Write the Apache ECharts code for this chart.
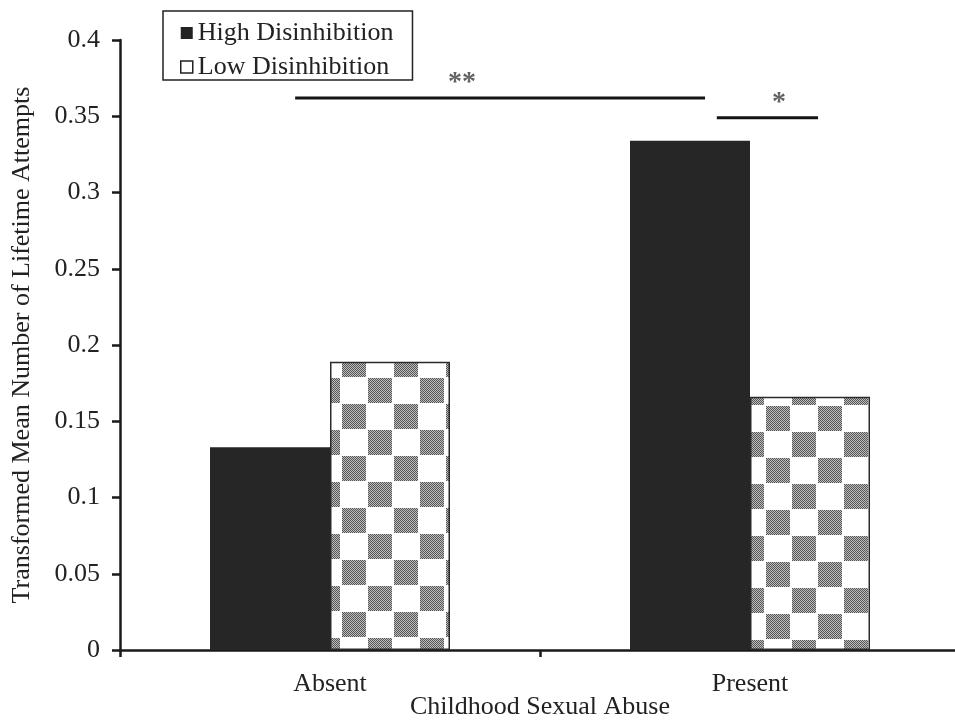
<!DOCTYPE html>
<html>
<head>
<meta charset="utf-8">
<script src="https://cdn.jsdelivr.net/npm/echarts@6/dist/echarts.min.js"></script>
<style>html,body{margin:0;padding:0;background:#fff}#c{width:955px;height:720px}</style>
</head>
<body>
<div id="c"></div>
<script>
// ---- data ----
var categories = ['Absent', 'Present'];
var highDisinhibition = [0.133, 0.334];
var lowDisinhibition = [0.189, 0.166];
var yTicks = [0, 0.05, 0.1, 0.15, 0.2, 0.25, 0.3, 0.35, 0.4];
// significance brackets, in category units along x (0..2) and value units along y
var sigLabels = ['**', '*'];
var sigStart = [0.417, 1.421];
var sigEnd = [1.393, 1.662];
var sigLevel = [0.362, 0.349];
var sigTextX = [0.814, 1.569];
var sigTextY = [0.372, 0.359];

var FONT = "'Liberation Serif', 'Times New Roman', serif";

function makeChecker(x0, y0) {
  var P = 52, C = 26;
  var cv = document.createElement('canvas');
  cv.width = P; cv.height = P;
  var ctx = cv.getContext('2d');
  var img = ctx.createImageData(P, P);
  for (var py = 0; py < P; py++) {
    for (var px = 0; px < P; px++) {
      var gx = ((px - x0) % P + P) % P;
      var gy = ((py - y0) % P + P) % P;
      var inCell = (gx % C) >= 2 && (gy % C) >= 1;
      var gray = inCell && ((Math.floor(gx / C) + Math.floor(gy / C)) % 2) === 0;
      var v = 255;
      if (gray) v = ((px + py) % 2 === 0) ? 85 : 190;
      var i = (py * P + px) * 4;
      img.data[i] = v; img.data[i + 1] = v; img.data[i + 2] = v; img.data[i + 3] = 255;
    }
  }
  ctx.putImageData(img, 0, 0);
  return cv;
}
var patterns = [makeChecker(340, 351), makeChecker(816, 405)];

var chart = echarts.init(document.getElementById('c'), null, {renderer: 'canvas'});

var lowData = lowDisinhibition.map(function (v, i) {
  return {value: v, itemStyle: {color: {image: patterns[i], repeat: 'repeat'}}};
});

var series = [
  {
    name: 'High Disinhibition', type: 'bar', data: highDisinhibition,
    barWidth: 120, barGap: '0%',
    itemStyle: {color: '#262626'}
  },
  {
    name: 'Low Disinhibition', type: 'bar', data: lowData,
    barWidth: 120, barGap: '0%',
    itemStyle: {borderColor: '#2a2a2a', borderWidth: 1.5}
  }
];
sigLabels.forEach(function (lab, i) {
  series.push({
    type: 'line', xAxisIndex: 1, yAxisIndex: 0, silent: true,
    symbol: 'none', lineStyle: {color: '#141414', width: 3},
    data: [[sigStart[i], sigLevel[i]], [sigEnd[i], sigLevel[i]]]
  });
  series.push({
    type: 'scatter', xAxisIndex: 1, yAxisIndex: 0, silent: true,
    symbolSize: 0,
    label: {show: true, position: 'inside', formatter: lab, fontFamily: FONT, fontSize: 28, fontWeight: 'bold', color: '#3a3a3a'},
    data: [{value: [sigTextX[i], sigTextY[i]], name: lab}]
  });
});

chart.setOption({
  animation: false,
  backgroundColor: '#fff',
  grid: {left: 120, top: 40, width: 840, bottom: 70, containLabel: false, outerBoundsMode: 'none'},
  legend: {
    left: 163, top: 11, orient: 'vertical',
    padding: [9, 19, 0, 17], itemGap: 8,
    borderColor: '#222', borderWidth: 1.5,
    itemWidth: 12, itemHeight: 12,
    textStyle: {fontFamily: FONT, fontSize: 26, color: '#222', lineHeight: 24},
    selectedMode: false,
    data: [
      {name: 'High Disinhibition', icon: 'rect', itemStyle: {color: '#222', borderWidth: 0}},
      {name: 'Low Disinhibition', icon: 'rect', itemStyle: {color: '#fff', borderColor: '#222', borderWidth: 1.5}}
    ]
  },
  xAxis: [
    {
      type: 'category', data: categories,
      name: 'Childhood Sexual Abuse', nameLocation: 'middle', nameGap: 44, nameMoveOverlap: false,
      nameTextStyle: {fontFamily: FONT, fontSize: 26, color: '#222'},
      axisLine: {lineStyle: {color: '#1a1a1a', width: 2.5}},
      axisTick: {show: true, length: 7, lineStyle: {color: '#1a1a1a', width: 2.5}},
      axisLabel: {fontFamily: FONT, fontSize: 26, color: '#222', margin: 21},
      splitLine: {show: false}
    },
    {type: 'value', min: 0, max: 2, show: false}
  ],
  yAxis: [{
    type: 'value', min: 0, max: 0.4, interval: 0.05,
    name: 'Transformed Mean Number of Lifetime Attempts', nameLocation: 'middle', nameGap: 85, nameMoveOverlap: false,
    nameTextStyle: {fontFamily: FONT, fontSize: 26, color: '#222'},
    axisLine: {show: true, lineStyle: {color: '#1a1a1a', width: 2.5}},
    axisTick: {show: true, length: 8, lineStyle: {color: '#1a1a1a', width: 2.5}},
    axisLabel: {fontFamily: FONT, fontSize: 26, color: '#222', margin: 20,
      formatter: function (v) {
        var best = yTicks.reduce(function (a, b) { return Math.abs(b - v) < Math.abs(a - v) ? b : a; });
        return String(best);
      }},
    splitLine: {show: false}
  }],
  series: series
});
</script>
</body>
</html>
